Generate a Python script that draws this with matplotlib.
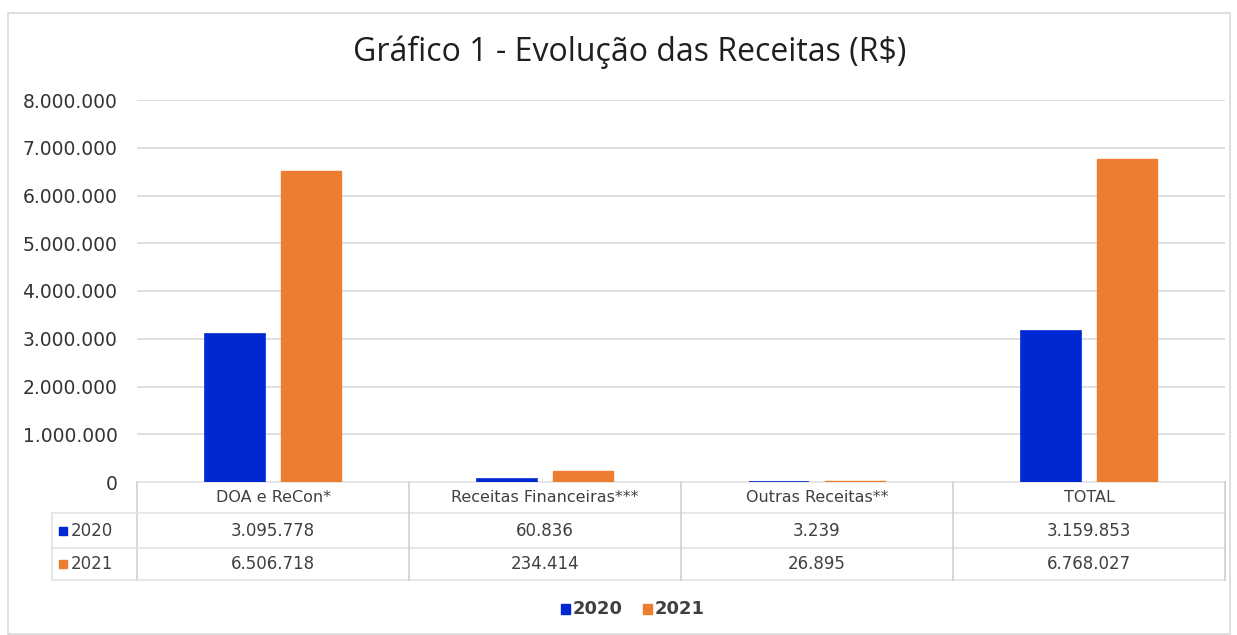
import numpy as np
import matplotlib.pyplot as plt
from matplotlib.patches import Rectangle
from matplotlib.transforms import blended_transform_factory

# data
categorias = ['DOA e ReCon*', 'Receitas Financeiras***', 'Outras Receitas**', 'TOTAL']
anos = ['2020', '2021']
receitas_2020 = [3095778, 60836, 3239, 3159853]
receitas_2021 = [6506718, 234414, 26895, 6768027]
yticks = np.arange(0, 8000001, 1000000)

cores = ['#0028D2', '#ED7D31']
cinza_txt = '#404040'
cinza_lin = '#D9D9D9'

W, H = 1237, 635
fig = plt.figure(figsize=(W / 100, H / 100), dpi=100)
plt.rcParams['font.family'] = ['DejaVu Sans']

def fy(py):
    # pixel row -> figure fraction
    return 1 - py / H

def fx(px):
    return px / W

# outer chart border
fig.patches.append(Rectangle((fx(8), fy(634)), fx(1230) - fx(8), fy(13) - fy(634),
                             transform=fig.transFigure, fill=False,
                             edgecolor=cinza_lin, lw=1.2))

ax = fig.add_axes([fx(137), fy(482), fx(1225) - fx(137), fy(100) - fy(482)])

x = np.arange(len(categorias))
larg = 0.22
ax.bar(x - 0.14, receitas_2020, larg, color=cores[0], edgecolor=cores[0], lw=1.2, zorder=3)
ax.bar(x + 0.14, receitas_2021, larg, color=cores[1], edgecolor=cores[1], lw=1.0, zorder=3)

ax.set_xlim(-0.5, len(categorias) - 0.5)
ax.set_ylim(0, 8000000)
ax.set_yticks(yticks)
ax.set_yticklabels([f'{v:,}'.replace(',', '.') for v in yticks],
                   fontsize=13.5, color='#333333')
ax.tick_params(axis='y', length=0, pad=14)
ax.set_xticks([])
ax.grid(axis='y', color=cinza_lin, lw=1.2, zorder=0)
for s in ax.spines.values():
    s.set_visible(False)

fig.text(fx(630), fy(52), 'Gráfico 1 - Evolução das Receitas (R$)', ha='center', va='center',
         fontsize=23, color='#1F1F1F', family='Open Sans')

# data table under the axis
tr = blended_transform_factory(ax.transData, fig.transFigure)
linhas_y = [482, 513, 548, 580]
for py in linhas_y:
    ax.plot([-0.5, len(categorias) - 0.5], [fy(py)] * 2, transform=tr, color='#E3E3E3',
            lw=1.2, clip_on=False)
for xb in np.arange(-0.5, len(categorias)):
    ax.plot([xb, xb], [fy(482), fy(580)], transform=tr, color='#D0D0D0', lw=1.2,
            clip_on=False)
for py in [513, 548, 580]:
    fig.add_artist(plt.Line2D([fx(52), fx(137)], [fy(py)] * 2, color='#E3E3E3', lw=1.2))
fig.add_artist(plt.Line2D([fx(52), fx(52)], [fy(513), fy(580)], color='#E3E3E3', lw=1.2))

for i, c in enumerate(categorias):
    ax.text(i, fy(498), c, transform=tr, ha='center', va='center', fontsize=11.5,
            color=cinza_txt)
    ax.text(i, fy(531), f'{receitas_2020[i]:,}'.replace(',', '.'), transform=tr,
            ha='center', va='center', fontsize=12, color=cinza_txt)
    ax.text(i, fy(564), f'{receitas_2021[i]:,}'.replace(',', '.'), transform=tr,
            ha='center', va='center', fontsize=12, color=cinza_txt)

for j, (ano, py) in enumerate(zip(anos, [531, 564])):
    fig.patches.append(Rectangle((fx(59), fy(py + 4)), fx(8), fy(py - 4) - fy(py + 4),
                                 transform=fig.transFigure, color=cores[j]))
    fig.text(fx(71), fy(py), ano, ha='left', va='center', fontsize=12, color=cinza_txt)

# legend
for j, (ano, px) in enumerate(zip(anos, [561, 643])):
    fig.patches.append(Rectangle((fx(px), fy(614)), fx(9), fy(604) - fy(614),
                                 transform=fig.transFigure, color=cores[j]))
    fig.text(fx(px + 12), fy(609), ano, ha='left', va='center', fontsize=13,
             color=cinza_txt, fontweight='bold')

fig.savefig('out.png', dpi=100)
